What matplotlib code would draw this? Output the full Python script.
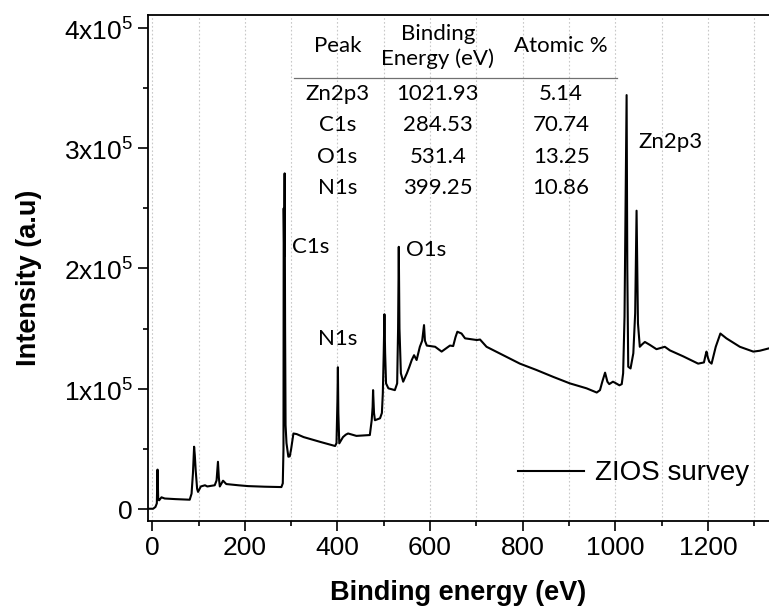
import matplotlib
matplotlib.use("Agg")
import matplotlib.pyplot as plt
from matplotlib.ticker import MultipleLocator

plt.rcParams["font.family"] = ["Liberation Sans", "DejaVu Sans"]
plt.rcParams["mathtext.fontset"] = "custom"
plt.rcParams["mathtext.rm"] = "Liberation Sans"

# XPS survey spectrum (binding energy in eV, counts in thousands)
energy = [
    -9, 2, 7, 10, 11.5, 13, 15, 20, 27, 50, 81, 85, 88, 90.5, 92, 94, 97, 99,
    105, 114, 119, 135, 139, 142, 144, 146, 153, 160, 186, 207, 243, 279, 282,
    283.5, 284, 285, 286, 287, 288, 290, 294, 297, 300, 305, 312, 327, 363,
    395, 398, 400, 401, 402, 404, 412, 418, 423, 441, 470, 474, 476, 477, 479,
    481, 492, 496, 498, 500, 501.5, 503, 505, 510, 524, 529, 531, 532.5, 534,
    537, 542, 550, 555, 560.5, 565.5, 571, 578, 583, 587, 589, 593, 611, 625,
    643, 650, 655, 659, 668, 675.6, 701, 708, 722, 758, 794, 830, 866, 902,
    938, 960, 967, 972, 978, 983, 987, 995, 1000, 1009, 1014, 1017, 1020,
    1021, 1023, 1024.5, 1026, 1028, 1033, 1039, 1043, 1045, 1046, 1047.5,
    1049, 1053, 1058, 1064, 1075, 1089, 1107, 1118, 1147, 1179, 1191.5, 1195,
    1197, 1200, 1203, 1208, 1217, 1227, 1240, 1269, 1298, 1312, 1335,
]
intensity_k = [
    0.5, 0.5, 2, 5, 33, 8, 7.5, 10, 9, 8.5, 8, 13, 30, 52, 45, 32, 17, 14.5,
    19, 20, 19, 20, 24, 39.5, 26, 19, 23.8, 21, 20, 19.3, 18.8, 18.5, 21.6,
    50, 250, 210, 279, 150, 70, 55, 43.7, 44, 50, 63, 62.5, 60, 56,
    52.6, 55, 90, 118, 80, 54.8, 60, 62, 63, 61, 61.7, 74, 85, 99, 80,
    74, 75.6, 80, 96, 130, 162, 130, 104.6, 100.5, 99, 104.6, 150, 218, 150,
    113, 106, 113, 118, 124, 128, 124, 135, 140, 153, 140, 136, 135, 131,
    136, 135.6, 143, 147.5, 146, 142, 140.6, 141, 135, 128, 121, 115.7, 110, 104.6,
    100.5, 97, 99, 106, 113.5, 106, 104, 106, 105, 103, 104, 113, 160,
    201.5, 280, 344, 200, 118.4, 117, 129.6, 163, 220, 248, 200,
    154.5, 135, 137, 139, 136.5, 133, 135, 132, 127, 121, 122, 128,
    131, 126, 122.6, 121, 135, 146, 142, 135, 131, 131.7, 134,
]
intensity = [v * 1000 for v in intensity_k]

# peak labels
peak_names = ["C1s", "N1s", "O1s", "Zn2p3"]
peak_label_x = [302, 357, 548, 1049]
peak_label_y = [218e3, 141.5e3, 215e3, 305e3]

# inset table
table_header = ["Peak", "Binding\nEnergy (eV)", "Atomic %"]
table_peaks = ["Zn2p3", "C1s", "O1s", "N1s"]
table_energy = ["1021.93", "284.53", "531.4", "399.25"]
table_atomic = ["5.14", "70.74", "13.25", "10.86"]

y_ticks = [0, 1e5, 2e5, 3e5, 4e5]
y_tick_labels = ["0", "1x10$^5$", "2x10$^5$", "3x10$^5$", "4x10$^5$"]

fig = plt.figure(figsize=(7.69, 6.15), dpi=100)
ax = fig.add_axes([0.1925, 0.1528, 0.8075, 0.8228])

ax.plot(energy, intensity, color="black", lw=1.5, label="ZIOS survey")

ax.set_xlim(-9, 1332)
ax.set_ylim(-9.7e3, 4.105e5)

ax.xaxis.set_major_locator(MultipleLocator(200))
ax.xaxis.set_minor_locator(MultipleLocator(100))
ax.set_yticks(y_ticks, y_tick_labels)
ax.yaxis.set_minor_locator(MultipleLocator(0.5e5))
ax.tick_params(which="major", direction="out", length=7, width=1.2, labelsize=19, pad=4)
ax.tick_params(which="minor", direction="out", length=3.8, width=1.2)
ax.tick_params(top=False, right=False, which="both")

for side in ("left", "bottom", "top"):
    ax.spines[side].set_linewidth(1.3)
ax.spines["right"].set_visible(False)

ax.grid(True, axis="x", which="both", color="#c8c8c8", ls=(0, (1.5, 2)), lw=0.8)
ax.set_axisbelow(True)

ax.set_xlabel("Binding energy (eV)", fontsize=19.5, fontweight="bold", labelpad=14)
ax.set_ylabel("Intensity (a.u)", fontsize=19.5, fontweight="bold")
ax.yaxis.set_label_coords(-0.171, 0.481)

label_font = ["Lato", "DejaVu Sans"]
for name, x, y in zip(peak_names, peak_label_x, peak_label_y):
    ax.text(x, y, name, fontsize=16, family=label_font, ha="left", va="center")

# table
col_x = [400, 617, 883]
header_y = 384.5e3
row_y = [345e3, 319e3, 292.5e3, 266.8e3]
for x, head in zip(col_x, table_header):
    ax.text(x, header_y, head, fontsize=16, family=label_font, ha="center",
            va="center", linespacing=1.3)
ax.plot([306.5, 1003.7], [358e3, 358e3], color="#707070", lw=0.9)
for y, p, e, a in zip(row_y, table_peaks, table_energy, table_atomic):
    ax.text(col_x[0], y, p, fontsize=16, family=label_font, ha="center", va="center")
    ax.text(col_x[1], y, e, fontsize=16, family=label_font, ha="center", va="center")
    ax.text(col_x[2], y, a, fontsize=16, family=label_font, ha="center", va="center")

ax.legend(loc="lower right", frameon=False, fontsize=20, handlelength=2.4,
          handletextpad=0.4, bbox_to_anchor=(1.0, 0.03), borderaxespad=0.3)

fig.savefig("out.png", dpi=100)
